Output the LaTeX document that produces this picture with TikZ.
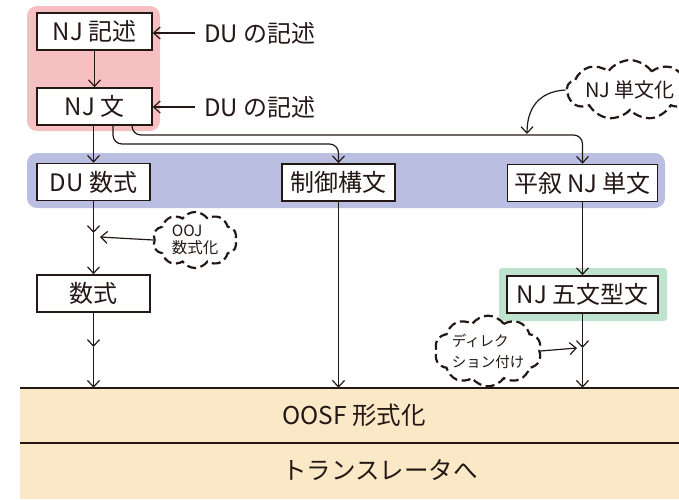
\documentclass[tikz,border=0pt]{standalone}
\usepackage{fontspec}
\setmainfont{Noto Sans CJK JP}
\usetikzlibrary{arrows.meta,shapes.symbols,calc}
\definecolor{pinkbg}{HTML}{F6BFC1}
\definecolor{bluebg}{HTML}{BABEE0}
\definecolor{greenbg}{HTML}{BEE3CF}
\definecolor{bandbg}{HTML}{FAE8C6}
\definecolor{ink}{HTML}{231815}
\begin{document}
\begin{tikzpicture}[x=1pt,y=-1pt,
 every node/.style={text=ink},
 box/.style={draw=ink, line width=1.6pt, fill=white, inner sep=0pt, minimum height=37pt, font=\fontsize{24}{28}\selectfont},
 lbl/.style={font=\fontsize{24}{28}\selectfont, inner xsep=9pt, inner ysep=0pt},
 bandtext/.style={font=\fontsize{24.5}{28}\selectfont, inner sep=0pt},
 conn/.style={draw=ink, line width=1.2pt, -{Straight Barb[length=6.5pt,width=12pt,line width=1.2pt]}},
 thought/.style={cloud, cloud puffs=10, cloud puff arc=110, aspect=1.6, draw=ink, line width=2.2pt, dash pattern=on 9pt off 4.5pt, fill=white, inner sep=0pt, align=left},
 band/.style={fill=bandbg, inner sep=0pt, minimum width=659pt, minimum height=55pt},
]
\useasboundingbox (0,0) rectangle (679,499);
% background regions
\fill[pinkbg, rounded corners=10pt] (27,6) rectangle (160,131);
\fill[bluebg, rounded corners=10pt] (27,153) rectangle (665,208);
\fill[greenbg, rounded corners=3pt] (499,268) rectangle (667,321);
% bottom bands
\node[band] (oosf) at (349.5,415.5) {};
\node[band] (trans) at (349.5,471) {};
\draw[ink, line width=2pt] (oosf.north west) -- (oosf.north east);
\draw[ink, line width=1.5pt] (oosf.south west) -- (oosf.south east);
\node[bandtext, anchor=west] (toosf) at (282,415.5) {OOSF 形式化};
\node[bandtext, anchor=west] (ttrans) at (282,470) {トランスレータへ};
% boxes
\node[box, minimum width=115pt] (njk) at (94.5,31.5) {NJ 記述};
\node[box, minimum width=115pt] (njb) at (94.5,106.5) {NJ 文};
\node[box, minimum width=113pt] (dusu) at (93.5,182) {DU 数式};
\node[box, minimum width=113pt] (ctrl) at (338.5,182.5) {制御構文};
\node[box, minimum width=150pt] (heijo) at (582.5,183) {平叙 NJ 単文};
\node[box, minimum width=113pt] (susiki) at (93.5,293.5) {数式};
\node[box, minimum width=151pt] (gokei) at (582.5,294.5) {NJ 五文型文};
% side labels
\node[lbl, anchor=west] (du1) at (195,33) {DU の記述};
\node[lbl, anchor=west] (du2) at (195,107) {DU の記述};
\draw[conn] (du1.west) -- (njk.east |- du1.west);
\draw[conn] (du2.west) -- (njb.east |- du2.west);
% clouds
\node[thought, cloud puffs=9, aspect=3.2, minimum width=100pt, minimum height=36pt, font=\fontsize{20}{22}\selectfont] (tan) at (630,90) {NJ 単文化};
\node[thought, minimum width=84pt, minimum height=56pt, font=\fontsize{15.5}{16.5}\selectfont] (ooj) at (195,240) {OOJ\\数式化};
\node[thought, aspect=1.8, minimum width=106pt, minimum height=58pt, font=\fontsize{14.5}{21}\selectfont] (dir) at (488,351) {ディレク\\ション付け};
% main flow
\draw[conn] (njk) -- (njb);
\draw[conn] (njb.south -| dusu) -- (dusu.north);
\coordinate (c1) at (113,144);
\coordinate (c2) at (132,135);
\draw[conn, rounded corners=9pt] (njb.south -| c1) |- (ctrl.north |- c1) -- (ctrl.north);
\draw[conn, rounded corners=9pt] (njb.south -| c2) |- (heijo.north |- c2) -- (heijo.north);
\coordinate (t1) at (527,134);
\draw[conn] (tan.west) .. controls (545,91) and (527,102) .. (t1);
% left column
\coordinate (m1) at (93.5,233);
\coordinate (m1r) at (100,237);
\draw[conn] (dusu.south) -- (m1);
\draw[conn] (m1) -- (susiki.north);
\draw[conn] (ooj.west) -- (m1r);
\coordinate (m2) at (93.5,347);
\draw[conn] (susiki.south) -- (m2);
\draw[conn] (m2) -- (m2 |- oosf.north);
% middle column
\draw[conn] (ctrl.south) -- (ctrl.south |- oosf.north);
% right column
\draw[conn] (heijo.south) -- (gokei.north);
\coordinate (m3) at (582.5,348);
\coordinate (m3l) at (577,348);
\draw[conn] (gokei.south) -- (m3);
\draw[conn] (m3) -- (m3 |- oosf.north);
\draw[conn] (dir.east) -- (m3l);
\end{tikzpicture}
\end{document}
